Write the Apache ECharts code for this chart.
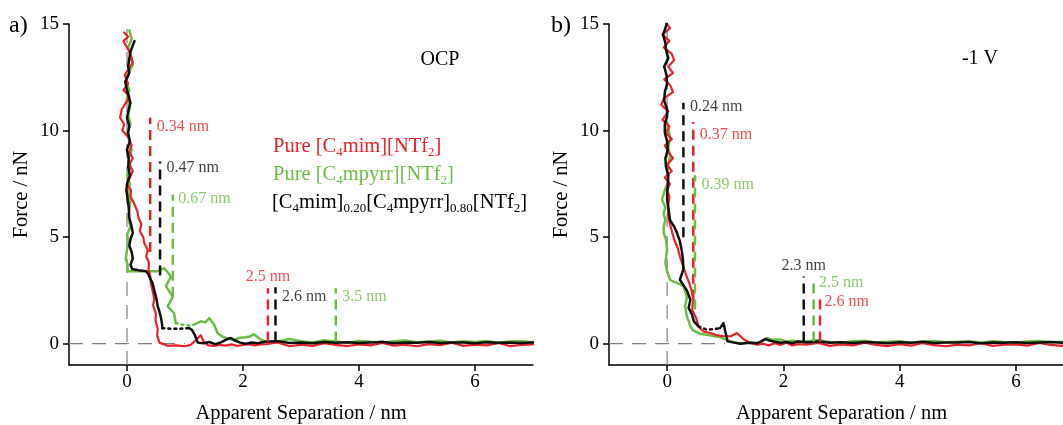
<!DOCTYPE html>
<html>
<head>
<meta charset="utf-8">
<script src="https://cdn.jsdelivr.net/npm/echarts@6/dist/echarts.min.js"></script>
<style>html,body{margin:0;padding:0;background:#fff}#c{width:1063px;height:425px}</style>
</head>
<body>
<div id="c"></div>
<script>
// ---------------- DATA ----------------
const xTicks = [0, 2, 4, 6];
const yTicks = [0, 5, 10, 15];
const tailX = [2.4,2.6,2.8,3.0,3.2,3.4,3.6,3.8,4.0,4.2,4.4,4.6,4.8,5.0,5.2,5.4,5.6,5.8,6.0,6.2,6.4,6.6,6.8,7.0];

// Panel a) OCP
const ocpRed = [[-0.05,14.6],[0.02,14.4],[-0.06,14.2],[0.0,13.9],[0.06,13.6],[0.1,13.2],[0.03,12.9],[-0.04,12.6],[0.02,12.2],[-0.06,11.9],[0.04,11.6],[-0.02,11.3],[-0.09,11.0],[-0.12,10.6],[-0.05,10.3],[-0.08,10.0],[0.02,9.7],[0.08,9.3],[0.04,9.0],[0.1,8.7],[0.04,8.4],[0.1,8.1],[0.05,7.8],[0.0,7.5],[0.07,7.2],[0.06,6.9],[0.12,6.6],[0.18,6.2],[0.2,5.9],[0.25,5.6],[0.22,5.3],[0.28,5.0],[0.3,4.7],[0.36,4.4],[0.33,4.1],[0.38,3.8],[0.37,3.5],[0.4,3.2],[0.41,2.85],[0.44,2.5],[0.47,2.1],[0.45,1.8],[0.5,1.4],[0.49,1.1],[0.53,0.7],[0.52,0.4],[0.56,0.05],[0.7,-0.1],[0.85,-0.08],[1.0,-0.12],[1.1,-0.05],[1.2,0.2],[1.27,0.4],[1.32,0.1],[1.4,-0.08],[1.5,-0.1],[1.6,-0.05],[1.7,-0.09],[1.8,-0.03],[1.9,-0.1],[2.0,-0.06],[2.1,-0.02],[2.2,-0.08],[2.3,-0.03]];
const ocpRedTail = [-0.02,0.06,-0.12,-0.04,-0.10,0.02,-0.06,-0.11,-0.03,-0.08,0.04,-0.09,-0.05,-0.12,-0.02,-0.07,0.05,-0.10,-0.04,-0.08,0.03,-0.11,-0.06,-0.03];
const ocpGreen = [[0.04,14.7],[0.08,14.3],[0.02,13.9],[0.06,13.5],[0.1,13.1],[0.03,12.7],[-0.02,12.3],[0.04,11.9],[0.0,11.5],[0.05,11.1],[0.02,10.7],[0.06,10.3],[0.0,9.9],[0.04,9.5],[0.08,9.1],[0.03,8.7],[0.06,8.3],[0.01,7.9],[0.05,7.5],[0.02,7.1],[0.06,6.7],[0.04,6.3],[0.02,5.9],[0.06,5.5],[0.0,5.1],[0.03,4.8],[0.0,4.4],[-0.02,4.0],[0.01,3.7],[0.01,3.4],[0.2,3.4],[0.4,3.4],[0.53,3.4],[0.64,3.55],[0.76,3.15],[0.67,2.7],[0.79,2.2],[0.7,1.75],[0.81,1.44],[0.84,0.97]];
const ocpGreenJump = [[0.84,0.97],[0.93,0.9],[1.1,0.84],[1.2,0.95]];
const ocpGreenLow = [[1.2,0.95],[1.27,1.05],[1.35,1.0],[1.42,1.2],[1.5,0.9],[1.56,0.5],[1.64,0.34],[1.75,0.22],[1.85,0.19],[1.95,0.28],[2.05,0.3],[2.12,0.34],[2.19,0.45],[2.3,0.2]];
const ocpGreenTail = [0.08,0.10,0.22,0.12,0.06,0.16,0.10,0.04,0.13,0.09,0.05,0.12,0.15,0.07,0.10,0.14,0.06,0.11,0.08,0.13,0.05,0.10,0.12,0.07];
const ocpBlack = [[0.13,14.2],[0.10,14.0],[0.06,13.7],[0.04,13.4],[0.02,13.0],[0.04,12.7],[-0.03,12.3],[-0.01,12.0],[0.02,11.7],[0.06,11.3],[0.03,11.0],[0.0,10.6],[0.04,10.2],[0.02,9.9],[0.05,9.5],[0.0,9.1],[0.03,8.7],[0.02,8.3],[0.05,7.9],[0.0,7.5],[-0.01,7.2],[0.01,6.8],[0.03,6.4],[0.04,5.9],[0.08,5.5],[0.10,5.2],[0.06,4.9],[0.04,4.6],[0.08,4.3],[0.10,4.0],[0.06,3.7],[0.09,3.5],[0.2,3.45],[0.33,3.4],[0.36,3.3],[0.40,3.05],[0.44,2.85],[0.47,2.5],[0.5,2.2],[0.53,1.75],[0.56,1.5],[0.58,1.28],[0.6,1.0],[0.61,0.73]];
const ocpBlackJump = [[0.61,0.73],[0.75,0.7],[0.9,0.7],[1.07,0.73]];
const ocpBlackLow = [[1.07,0.73],[1.12,0.65],[1.17,0.4],[1.2,0.2],[1.22,0.05],[1.32,0.02],[1.42,0.08],[1.52,-0.02],[1.62,0.06],[1.72,0.2],[1.79,0.27],[1.86,0.15],[1.95,0.05],[2.05,0.0],[2.15,0.06],[2.25,0.02]];
const ocpBlackTail = [0.10,0.12,0.03,0.06,0.02,0.08,0.04,0.07,0.03,0.05,0.09,0.02,0.06,0.04,0.08,0.03,0.06,0.05,0.02,0.07,0.04,0.06,0.03,0.05];

const ocpMarkX = [0.40, 0.57, 0.79, 2.43, 2.56, 3.60];
const ocpMarkTop = [10.6, 8.55, 7.0, 2.6, 2.65, 2.6];
const ocpMarkBottom = [4.3, 3.2, 2.2, 0.1, 0.1, 0.1];
const ocpMarkLabel = ['0.34 nm', '0.47 nm', '0.67 nm', '2.5 nm', '2.6 nm', '3.5 nm'];
const ocpMarkSeries = ['red', 'black', 'green', 'red', 'black', 'green'];

// Panel b) -1 V
const negRed = [[-0.03,15.1],[0.05,14.8],[-0.08,14.5],[0.04,14.2],[-0.06,13.9],[0.08,13.6],[0.12,13.3],[0.02,13.0],[0.1,12.7],[-0.05,12.4],[0.06,12.1],[0.1,11.8],[-0.06,11.5],[-0.1,11.2],[0.02,10.9],[-0.08,10.5],[0.04,10.2],[-0.02,9.9],[0.08,9.6],[-0.04,9.3],[0.02,9.0],[0.1,8.7],[0.0,8.4],[0.08,8.1],[-0.04,7.8],[0.05,7.5],[0.0,7.2],[0.04,6.9],[0.02,6.5],[0.02,6.0],[0.05,5.6],[0.08,5.3],[0.12,4.9],[0.18,4.5],[0.22,4.1],[0.28,3.6],[0.33,3.2],[0.38,2.85],[0.42,2.5],[0.45,2.06],[0.43,1.6],[0.5,1.2],[0.54,0.8],[0.62,0.58],[0.74,0.5],[0.85,0.4],[0.95,0.36],[1.09,0.34],[1.2,0.5],[1.32,0.2],[1.43,0.03],[1.55,-0.05],[1.65,0.0],[1.75,-0.08],[1.85,0.02],[1.95,-0.06],[2.05,0.05],[2.15,-0.08],[2.25,-0.02]];
const negRedTail = [-0.05,0.04,-0.1,-0.03,-0.08,0.05,-0.06,-0.11,-0.02,-0.09,0.03,-0.07,-0.12,-0.04,-0.08,0.02,-0.1,-0.05,-0.03,-0.09,0.04,-0.06,-0.1,-0.02];
const negGreen = [[0.0,10.4],[0.03,10.0],[0.05,9.6],[0.02,9.2],[0.05,8.8],[0.02,8.4],[0.0,8.0],[0.02,7.6],[-0.04,7.2],[-0.09,6.75],[-0.03,6.4],[-0.06,6.1],[-0.03,5.8],[-0.06,5.5],[-0.06,5.2],[-0.02,4.9],[0.0,4.4],[-0.03,3.8],[0.0,3.4],[0.05,3.0],[0.12,2.9],[0.17,2.85],[0.28,2.7],[0.34,2.2],[0.31,1.75],[0.34,1.28],[0.38,1.0],[0.4,0.81],[0.45,0.62],[0.48,0.55],[0.58,0.45],[0.68,0.42],[0.8,0.36],[0.91,0.31],[1.0,0.2],[1.09,0.11],[1.2,0.04],[1.3,0.02],[1.45,0.06],[1.6,0.03],[1.72,0.27],[1.8,0.18],[1.94,0.2],[2.05,0.1],[2.15,0.14],[2.3,0.1]];
const negGreenTail = [0.12,0.16,0.08,0.05,0.11,0.14,0.06,0.09,0.12,0.04,0.10,0.13,0.07,0.09,0.11,0.05,0.12,0.08,0.06,0.10,0.13,0.07,0.09,0.11];
const negBlack = [[0.0,15.1],[-0.03,14.8],[-0.07,14.5],[-0.03,14.1],[-0.02,13.8],[0.02,13.4],[-0.05,13.0],[-0.01,12.6],[0.0,12.2],[-0.04,11.8],[-0.05,11.4],[0.0,11.0],[0.0,10.65],[-0.04,10.3],[-0.04,9.9],[0.0,9.5],[0.01,9.1],[-0.03,8.7],[-0.02,8.3],[0.02,7.9],[0.01,7.4],[0.0,7.0],[0.0,6.75],[0.03,6.2],[0.05,5.8],[0.12,5.5],[0.17,5.2],[0.22,4.8],[0.25,4.4],[0.27,4.0],[0.28,3.5],[0.22,3.0],[0.28,2.75],[0.34,2.5],[0.4,2.06],[0.37,1.67],[0.43,1.36],[0.46,1.05],[0.54,0.81]];
const negBlackJump = [[0.54,0.81],[0.68,0.66],[0.8,0.68],[0.91,0.73]];
const negBlackLow = [[0.91,0.73],[0.97,0.97],[1.0,0.58],[1.04,0.11],[1.15,0.05],[1.26,0.0],[1.4,0.04],[1.55,0.02],[1.69,0.22],[1.76,0.15],[1.83,0.1],[1.95,0.04],[2.05,0.08],[2.15,0.02],[2.25,0.1]];
const negBlackTail = [0.06,0.10,0.04,0.07,0.03,0.08,0.05,0.02,0.07,0.04,0.09,0.03,0.06,0.05,0.08,0.02,0.06,0.04,0.07,0.03,0.05,0.08,0.04,0.06];

const negMarkX = [0.28, 0.45, 0.48, 2.35, 2.52, 2.63];
const negMarkTop = [11.3, 10.4, 7.9, 3.15, 3.1, 2.2];
const negMarkBottom = [5.0, 2.06, 1.6, 0.1, 0.1, 0.1];
const negMarkLabel = ['0.24 nm', '0.37 nm', '0.39 nm', '2.3 nm', '2.5 nm', '2.6 nm'];
const negMarkSeries = ['black', 'red', 'green', 'black', 'green', 'red'];

// reference lines (x = 0, y = 0)
const refVert = [[0, -1], [0, 15]];
const refHorz = [[-1, 0], [1, 0]];

// ---------------- STYLE / LAYOUT ----------------
const FONT = '"Liberation Serif", "Times New Roman", serif';
const COLORS = { red: '#e8232b', green: '#6cbd45', black: '#111111' };
// label placement for annotation marks: [position, dx, dy]
const ocpLabelPlace = [['right', 1, 9], ['right', 1, 6], ['right', 0, 4], ['top', 0, 2], ['right', 1, 10], ['right', 1, 9]];
const negLabelPlace = [['right', 1, 4], ['right', 1, 13], ['right', 1, 9], ['top', 0, 3], ['right', 0, 5], ['right', -1, 5]];

function withTail(main, tail) {
  return main.concat(tail.map((y, i) => [tailX[i], y]));
}
function curve(data, color, width, g, z, dotted) {
  return {
    type: 'line', xAxisIndex: g, yAxisIndex: g, data: data,
    showSymbol: false, symbol: 'none', silent: true, animation: false, z: z,
    lineStyle: { color: color, width: width, type: dotted ? [2, 4] : 'solid', cap: 'round', join: 'round' }
  };
}
function marks(xs, tops, bottoms, labels, keys, place, g) {
  const out = [];
  xs.forEach((x, i) => {
    const c = COLORS[keys[i]];
    out.push({
      type: 'line', xAxisIndex: g, yAxisIndex: g, data: [[x, bottoms[i]], [x, tops[i]]],
      showSymbol: false, symbol: 'none', silent: true, animation: false, z: 6,
      lineStyle: { color: c, width: 2.5, type: [10, 6] }
    });
    out.push({
      type: 'scatter', xAxisIndex: g, yAxisIndex: g, symbolSize: 1, silent: true, animation: false, z: 7,
      itemStyle: { color: 'rgba(0,0,0,0)' },
      data: [{ value: [x, tops[i]] }],
      label: {
        show: true, formatter: labels[i], position: place[i][0], distance: 5,
        offset: [place[i][1], place[i][2]], color: c, fontFamily: FONT, fontSize: 16
      }
    });
  });
  return out;
}
function ref(g) {
  const ls = { color: '#808080', width: 1.2, type: [14, 9] };
  return [
    { type: 'line', xAxisIndex: g, yAxisIndex: g, data: refVert, showSymbol: false, symbol: 'none', silent: true, animation: false, z: 1, lineStyle: ls },
    { type: 'line', xAxisIndex: g, yAxisIndex: g, data: refHorz, showSymbol: false, symbol: 'none', silent: true, animation: false, z: 1, lineStyle: ls }
  ];
}
function xAxis(g) {
  return {
    gridIndex: g, type: 'value', min: -1, max: 7,
    axisLine: { show: true, onZero: false, lineStyle: { color: '#000', width: 1.5 } },
    axisTick: { show: true, inside: false, length: 6, customValues: xTicks, lineStyle: { color: '#000', width: 1.5 } },
    axisLabel: { customValues: xTicks, fontFamily: FONT, fontSize: 19, color: '#000', margin: 8 },
    splitLine: { show: false },
    name: 'Apparent Separation / nm', nameLocation: 'middle', nameGap: 38,
    nameTextStyle: { fontFamily: FONT, fontSize: 20.5, color: '#000' }
  };
}
function yAxis(g) {
  return {
    gridIndex: g, type: 'value', min: -1, max: 15,
    axisLine: { show: true, onZero: false, lineStyle: { color: '#000', width: 1.5 } },
    axisTick: { show: true, inside: false, length: 6, customValues: yTicks, lineStyle: { color: '#000', width: 1.5 } },
    axisLabel: { customValues: yTicks, fontFamily: FONT, fontSize: 19, color: '#000', margin: 10 },
    splitLine: { show: false },
    name: 'Force / nN', nameLocation: 'middle', nameGap: 37, nameRotate: 90,
    nameTextStyle: { fontFamily: FONT, fontSize: 20.5, color: '#000' }
  };
}
function sub(color) {
  return {
    t: { fontFamily: FONT, fontSize: 20.5, fill: color, lineHeight: 24 },
    s: { fontFamily: FONT, fontSize: 13, fill: color, lineHeight: 13, verticalAlign: 'bottom' }
  };
}

const series = [].concat(
  ref(0), ref(1),
  [
    curve(ocpGreen, COLORS.green, 2.5, 0, 2),
    curve(ocpGreenJump, COLORS.green, 2.5, 0, 2, true),
    curve(withTail(ocpGreenLow, ocpGreenTail), COLORS.green, 2.5, 0, 2),
    curve(withTail(ocpRed, ocpRedTail), COLORS.red, 2.2, 0, 3),
    curve(ocpBlack, COLORS.black, 2.5, 0, 4),
    curve(ocpBlackJump, COLORS.black, 2.5, 0, 4, true),
    curve(withTail(ocpBlackLow, ocpBlackTail), COLORS.black, 2.5, 0, 4),

    curve(withTail(negGreen, negGreenTail), COLORS.green, 2.5, 1, 2),
    curve(withTail(negRed, negRedTail), COLORS.red, 2.2, 1, 3),
    curve(negBlack, COLORS.black, 2.5, 1, 4),
    curve(negBlackJump, COLORS.black, 2.5, 1, 4, true),
    curve(withTail(negBlackLow, negBlackTail), COLORS.black, 2.5, 1, 4)
  ],
  marks(ocpMarkX, ocpMarkTop, ocpMarkBottom, ocpMarkLabel, ocpMarkSeries, ocpLabelPlace, 0),
  marks(negMarkX, negMarkTop, negMarkBottom, negMarkLabel, negMarkSeries, negLabelPlace, 1)
);

const chart = echarts.init(document.getElementById('c'), null, { renderer: 'canvas' });
chart.setOption({
  animation: false,
  backgroundColor: '#fff',
  grid: [
    { left: 69, top: 24, width: 464, height: 341, containLabel: false, outerBoundsMode: 'none' },
    { left: 609, top: 24, width: 465, height: 341, containLabel: false, outerBoundsMode: 'none' }
  ],
  xAxis: [xAxis(0), xAxis(1)],
  yAxis: [yAxis(0), yAxis(1)],
  series: series,
  graphic: [
    { type: 'text', left: 9, top: 14, style: { text: 'a)', fontFamily: FONT, fontSize: 24, fill: '#000' } },
    { type: 'text', left: 551, top: 14, style: { text: 'b)', fontFamily: FONT, fontSize: 24, fill: '#000' } },
    { type: 'text', x: 440, y: 60, style: { text: 'OCP', fontFamily: FONT, fontSize: 20, fill: '#000', align: 'center', verticalAlign: 'middle' } },
    { type: 'text', x: 980, y: 59, style: { text: '-1 V', fontFamily: FONT, fontSize: 20, fill: '#000', align: 'center', verticalAlign: 'middle' } },
    { type: 'text', x: 273, y: 147, style: { text: '{t|Pure [C}{s|4}{t|mim][NTf}{s|2}{t|]}', rich: sub(COLORS.red), verticalAlign: 'middle' } },
    { type: 'text', x: 273, y: 175, style: { text: '{t|Pure [C}{s|4}{t|mpyrr][NTf}{s|2}{t|]}', rich: sub(COLORS.green), verticalAlign: 'middle' } },
    { type: 'text', x: 272, y: 203, style: { text: '{t|[C}{s|4}{t|mim]}{s|0.20}{t|[C}{s|4}{t|mpyrr]}{s|0.80}{t|[NTf}{s|2}{t|]}', rich: sub('#000'), verticalAlign: 'middle' } }
  ]
});
</script>
</body>
</html>
